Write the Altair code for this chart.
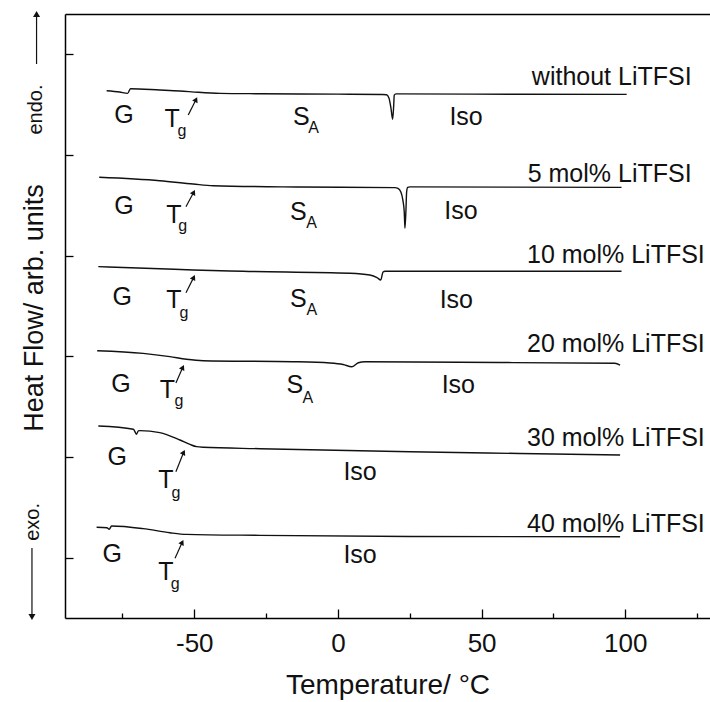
import math
import altair as alt
import pandas as pd

# ---------------- data (temperature in °C, heat flow in arb. units, offset per trace) ----------------
series_names = ["without LiTFSI", "5 mol% LiTFSI", "10 mol% LiTFSI",
                "20 mol% LiTFSI", "30 mol% LiTFSI", "40 mol% LiTFSI"]

T_0 = [-80.5, -76.0, -73.2, -72.2, -62.0, -55.0, -48.6, -41.0, -27.0, 0.0, 15.5, 16.9,
       17.75, 18.45, 19.04, 19.4, 19.6, 20.2, 60.0, 100.5]
HF_0 = [4.638, 4.625, 4.612, 4.658, 4.645, 4.635, 4.622, 4.612, 4.608, 4.604, 4.600, 4.598,
        4.566, 4.466, 4.354, 4.486, 4.595, 4.607, 4.603, 4.602]

T_5 = [-83.1, -62.0, -50.4, -43.4, -13.2, 19.8, 20.9, 21.9, 22.6, 23.08, 23.32, 23.67,
       23.91, 24.26, 25.06, 98.7]
HF_5 = [3.778, 3.744, 3.711, 3.694, 3.681, 3.675, 3.667, 3.632, 3.552, 3.433, 3.271, 3.453,
        3.632, 3.677, 3.683, 3.678]

T_10 = [-83.4, -62.0, -50.4, -33.0, 4.2, 11.1, 13.6, 14.9, 15.7, 16.4, 40.0, 98.7]
HF_10 = [2.890, 2.870, 2.857, 2.844, 2.824, 2.807, 2.782, 2.758, 2.837, 2.845, 2.845, 2.845]

T_20 = [-83.8, -67.8, -58.5, -52.7, -46.9, -15.6, -2.8, 1.8, 4.8, 7.1, 9.4, 56.4, 96.4, 98.2]
HF_20 = [2.055, 2.029, 1.996, 1.970, 1.956, 1.946, 1.933, 1.918, 1.896, 1.936, 1.946, 1.938,
         1.930, 1.913]

T_30 = [-83.4, -71.2, -70.7, -70.1, -69.5, -68.9, -62.0, -55.0, -51.5, -49.2, -46.9, -27.1,
        25.1, 63.3, 98.2]
HF_30 = [1.307, 1.275, 1.253, 1.225, 1.258, 1.261, 1.241, 1.168, 1.124, 1.102, 1.096, 1.082,
         1.052, 1.034, 1.019]

T_40 = [-84.0, -80.4, -79.6, -78.8, -67.8, -58.5, -52.7, -27.1, 25.1, 98.2]
HF_40 = [0.301, 0.296, 0.281, 0.314, 0.288, 0.247, 0.231, 0.221, 0.209, 0.207]

# trace labels (right aligned)
label_T = [123.1, 123.1, 127.7, 127.7, 127.7, 127.7]
label_HF = [4.695, 3.734, 2.926, 2.045, 1.108, 0.259]

# phase annotations
G_T = [-74.5, -74.5, -75.1, -75.5, -76.8, -78.6]
G_HF = [4.314, 3.413, 2.509, 1.648, 0.920, -0.041]
Tg_T = [-57.7, -57.1, -57.1, -59.4, -59.9, -59.9]
Tg_HF = [4.280, 3.324, 2.479, 1.585, 0.691, -0.222]
g_T = [-54.3, -54.0, -53.6, -55.3, -56.4, -56.6]
g_HF = [4.188, 3.244, 2.385, 1.506, 0.597, -0.312]
S_T = [-12.7, -13.8, -13.8, -15.0]
S_HF = [4.297, 3.354, 2.492, 1.635]
A_T = [-8.5, -9.2, -9.1, -10.5]
A_HF = [4.218, 3.274, 2.410, 1.536]
Iso_T = [44.6, 42.8, 41.2, 41.9, 7.7, 7.7]
Iso_HF = [4.297, 3.361, 2.477, 1.635, 0.771, -0.054]

# Tg arrows (tail -> tip)
arr_T0 = [-52.1, -52.9, -52.9, -56.4, -56.4, -56.7]
arr_HF0 = [4.397, 3.486, 2.631, 1.734, 0.853, -0.007]
arr_T1 = [-49.0, -49.8, -49.8, -53.6, -53.3, -53.8]
arr_HF1 = [4.573, 3.652, 2.807, 1.913, 1.069, 0.175]

# endo / exo side markers
side_text = ["endo.", "exo."]
side_T = [-105.1, -106.0]
side_HF = [4.451, 0.354]
side_arrow_T = [-104.9, -106.5]
side_arrow_HF0 = [4.903, 0.095]
side_arrow_HF1 = [5.430, -0.620]

x_ticks_major = [-50, 0, 50, 100]
x_ticks_minor = [-75, -25, 25, 75, 125]
y_ticks = [0, 1, 2, 3, 4, 5]

# ---------------- layout / style ----------------
FONT = "Liberation Sans"
INK = "#111111"
W, H = 645, 604
XDOM = [-95, 129.5]
YDOM = [-0.6, 5.4]
XS = alt.Scale(domain=XDOM, nice=False, zero=False)
YS = alt.Scale(domain=YDOM, nice=False, zero=False)
KX = W / (XDOM[1] - XDOM[0])   # px per °C
KY = H / (YDOM[1] - YDOM[0])   # px per unit

rows = []
for name, ts, hs in zip(series_names, [T_0, T_5, T_10, T_20, T_30, T_40],
                        [HF_0, HF_5, HF_10, HF_20, HF_30, HF_40]):
    for i, (t, h) in enumerate(zip(ts, hs)):
        rows.append({"series": name, "i": i, "T": t, "HF": h})
curves_df = pd.DataFrame(rows)

main_df = pd.DataFrame(
    [{"T": t, "HF": h, "txt": "G"} for t, h in zip(G_T, G_HF)]
    + [{"T": t, "HF": h, "txt": "T"} for t, h in zip(Tg_T, Tg_HF)]
    + [{"T": t, "HF": h, "txt": "S"} for t, h in zip(S_T, S_HF)]
    + [{"T": t, "HF": h, "txt": "Iso"} for t, h in zip(Iso_T, Iso_HF)]
)
sub_df = pd.DataFrame(
    [{"T": t, "HF": h, "txt": "g"} for t, h in zip(g_T, g_HF)]
    + [{"T": t, "HF": h, "txt": "A"} for t, h in zip(A_T, A_HF)]
)
lab_df = pd.DataFrame({"T": label_T, "HF": label_HF, "txt": series_names})

# arrowheads: builtin triangle, centre pulled back from the tip along the arrow
HEAD_SIZE = 36
HEAD_ANGLE = 26
half_h = math.sqrt(3) * (math.sqrt(HEAD_SIZE) / 2) / 2
a = math.radians(HEAD_ANGLE)
arrow_df = pd.DataFrame({"T0": arr_T0, "HF0": arr_HF0, "T1": arr_T1, "HF1": arr_HF1})
arrow_df["Tc"] = arrow_df["T1"] - half_h * math.sin(a) / KX
arrow_df["HFc"] = arrow_df["HF1"] - half_h * math.cos(a) / KY

side_df = pd.DataFrame({"T": side_T, "HF": side_HF, "txt": side_text})
SIDE_SIZE = 49
side_half = math.sqrt(3) * (math.sqrt(SIDE_SIZE) / 2) / 2
side_arrow_df = pd.DataFrame({"T": side_arrow_T, "HF0": side_arrow_HF0,
                              "HF1": side_arrow_HF1})
side_arrow_df["HFc"] = [side_arrow_HF1[0] - side_half / KY,
                        side_arrow_HF1[1] + side_half / KY]

# ---------------- axes ----------------
ax_x_main = alt.Axis(orient="bottom", title="Temperature/ °C", values=x_ticks_major,
                     ticks=False, tickSize=0, labelPadding=12, labelFontSize=26,
                     labelFont=FONT, labelColor=INK, labelFlush=False,
                     labelExpr="'' + datum.value",
                     titleFont=FONT, titleFontSize=28, titleFontWeight="normal",
                     titleColor=INK, titleX=W / 2, titleY=75, titleAlign="center",
                     titleBaseline="alphabetic", domainColor="black", domainWidth=1.5,
                     grid=False)
ax_y_main = alt.Axis(orient="left", title="Heat Flow/ arb. units", labels=False,
                     ticks=False, tickSize=0, grid=False, domainColor="black",
                     domainWidth=1.5, titleFont=FONT, titleFontSize=27,
                     titleFontWeight="normal", titleColor=INK, titleAngle=270,
                     titleX=-31, titleY=293.5, titleAlign="center",
                     titleBaseline="middle")
ax_x_major = alt.Axis(orient="top", offset=-H, values=x_ticks_major, labels=False,
                      domain=False, tickSize=9, tickColor="black", tickWidth=1.3,
                      grid=False, title=None)
ax_x_minor = alt.Axis(orient="top", offset=-H, values=x_ticks_minor, labels=False,
                      domain=False, tickSize=5, tickColor="black", tickWidth=1.3,
                      grid=False, title=None)
ax_x_top = alt.Axis(orient="top", values=[0], labels=False, ticks=False, domain=True,
                    domainColor="black", domainWidth=1.5, grid=False, title=None)
ax_y_ticks = alt.Axis(orient="right", offset=-W, values=y_ticks, labels=False,
                      domain=False, tickSize=8, tickColor="black", tickWidth=1.3,
                      grid=False, title=None)

# ---------------- layers ----------------
curves = alt.Chart(curves_df).mark_line(
    color=INK, strokeWidth=1.4, interpolate="monotone"
).encode(
    x=alt.X("T:Q", scale=XS, axis=ax_x_main),
    y=alt.Y("HF:Q", scale=YS, axis=ax_y_main),
    detail="series:N",
    order="i:Q",
)

main_text = alt.Chart(main_df).mark_text(
    font=FONT, fontSize=25, color=INK, align="center", baseline="alphabetic"
).encode(
    x=alt.X("T:Q", scale=XS, axis=ax_x_major),
    y=alt.Y("HF:Q", scale=YS, axis=ax_y_ticks),
    text="txt:N",
)

sub_text = alt.Chart(sub_df).mark_text(
    font=FONT, fontSize=16, color=INK, align="center", baseline="alphabetic"
).encode(
    x=alt.X("T:Q", scale=XS, axis=ax_x_minor),
    y=alt.Y("HF:Q", scale=YS, axis=None),
    text="txt:N",
)

labels = alt.Chart(lab_df).mark_text(
    font=FONT, fontSize=25, color=INK, align="right", baseline="alphabetic"
).encode(
    x=alt.X("T:Q", scale=XS, axis=ax_x_top),
    y=alt.Y("HF:Q", scale=YS, axis=None),
    text="txt:N",
)

tg_rules = alt.Chart(arrow_df).mark_rule(color=INK, strokeWidth=1.2).encode(
    x=alt.X("T0:Q", scale=XS, axis=None),
    y=alt.Y("HF0:Q", scale=YS, axis=None),
    x2="Tc:Q",
    y2="HFc:Q",
)
tg_heads = alt.Chart(arrow_df).mark_point(
    shape="triangle-up", filled=True, fill=INK, size=HEAD_SIZE, opacity=1,
    angle=HEAD_ANGLE
).encode(
    x=alt.X("Tc:Q", scale=XS, axis=None),
    y=alt.Y("HFc:Q", scale=YS, axis=None),
)

side_labels = alt.Chart(side_df).mark_text(
    font=FONT, fontSize=20, color=INK, align="center", baseline="middle", angle=270
).encode(
    x=alt.X("T:Q", scale=XS, axis=None),
    y=alt.Y("HF:Q", scale=YS, axis=None),
    text="txt:N",
)
side_rules = alt.Chart(side_arrow_df).mark_rule(color=INK, strokeWidth=1.2).encode(
    x=alt.X("T:Q", scale=XS, axis=None),
    y=alt.Y("HF0:Q", scale=YS, axis=None),
    y2="HFc:Q",
)
side_up = alt.Chart(side_arrow_df.iloc[[0]]).mark_point(
    shape="triangle-up", filled=True, fill=INK, size=SIDE_SIZE, opacity=1
).encode(
    x=alt.X("T:Q", scale=XS, axis=None),
    y=alt.Y("HFc:Q", scale=YS, axis=None),
)
side_down = alt.Chart(side_arrow_df.iloc[[1]]).mark_point(
    shape="triangle-down", filled=True, fill=INK, size=SIDE_SIZE, opacity=1
).encode(
    x=alt.X("T:Q", scale=XS, axis=None),
    y=alt.Y("HFc:Q", scale=YS, axis=None),
)

chart = alt.layer(
    curves, main_text, sub_text, labels, tg_rules, tg_heads,
    side_labels, side_rules, side_up, side_down
).resolve_axis(
    x="independent", y="independent"
).properties(
    width=W, height=H,
    padding={"left": 65, "top": 14, "right": 0, "bottom": 84},
    autosize=alt.AutoSizeParams(type="none"),
    background="white",
).configure_view(stroke=None)

chart.save("out.html", embed_options={"renderer": "svg", "actions": False})
